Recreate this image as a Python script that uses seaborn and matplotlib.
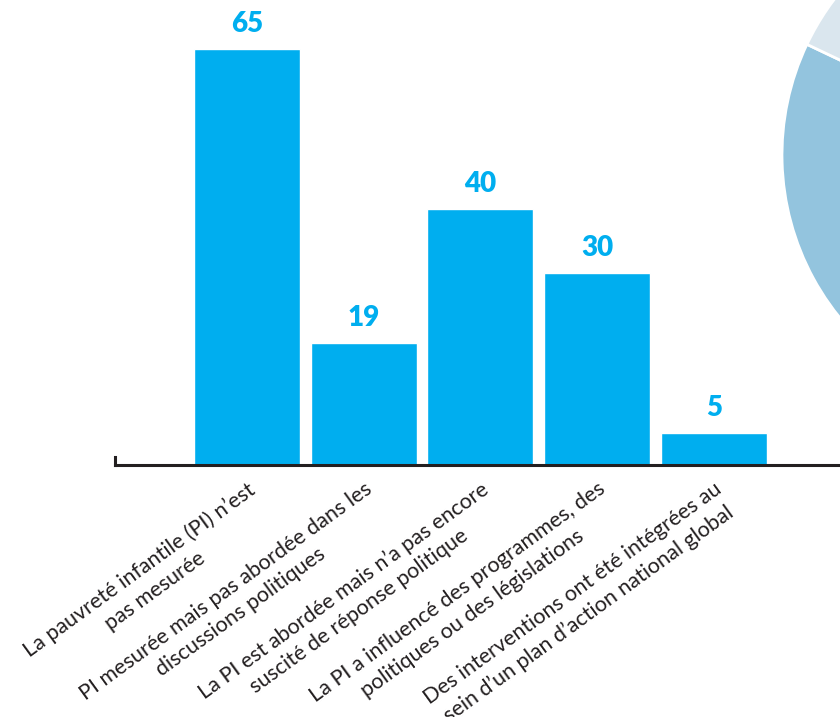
import matplotlib
matplotlib.use("Agg")
import matplotlib.pyplot as plt
import seaborn as sns
import pandas as pd

categories = [
    "La pauvreté infantile (PI) n’est\npas mesurée",
    "PI mesurée mais pas abordée dans les\ndiscussions politiques",
    "La PI est abordée mais n’a pas encore\nsuscité de réponse politique",
    "La PI a influencé des programmes, des\npolitiques ou des législations",
    "Des interventions ont été intégrées au\nsein d’un plan d’action national global",
]
values = [65, 19, 40, 30, 5]

pie_labels = ["principal", "secondaire"]
pie_values = [60, 40]

BAR = "#00AEEF"
DARK = "#231F20"

sns.set_style("white")
plt.rcParams["font.family"] = ["Lato", "DejaVu Sans"]

fig = plt.figure(figsize=(8.4, 7.17), dpi=100)
ax = fig.add_axes([115 / 840, (717 - 465) / 717, 1 - 115 / 840, 465 / 717])

df = pd.DataFrame({"cat": categories, "val": values})
sns.barplot(data=df, x="cat", y="val", color=BAR, saturation=1, width=0.91, ax=ax)

px_per_unit = 6.4
ax.set_ylim(0, 465 / px_per_unit)
spacing = 116.7
ax.set_xlim(-(247 - 115) / spacing, (840 - 247) / spacing)

ax.bar_label(ax.containers[0], labels=[str(v) for v in values], padding=9,
             fontsize=20, fontweight="heavy", color=BAR)

for s in ["top", "right"]:
    ax.spines[s].set_visible(False)
ax.spines["bottom"].set_color(DARK)
ax.spines["bottom"].set_linewidth(2.2)
ax.spines["left"].set_color(DARK)
ax.spines["left"].set_linewidth(2.2)
ax.spines["left"].set_bounds(0, 8 / px_per_unit)
ax.set_yticks([])
ax.set_xlabel("")
ax.set_ylabel("")
ax.set_xticks(range(len(categories)))
ax.set_xticklabels(categories, rotation=36, ha="right", va="top",
                   rotation_mode="anchor", multialignment="center",
                   fontsize=15.5, color=DARK, linespacing=1.35)
ax.tick_params(axis="x", length=0, pad=10)

# partial pie on the right edge
ax2 = fig.add_axes([782 / 840, (717 - 413) / 717, 516 / 840, 516 / 717])
ax2.pie(pie_values, startangle=154.6, colors=["#93C4DE", "#DAE6EE"],
        wedgeprops=dict(edgecolor="white", linewidth=2))
ax2.set_xlim(-1, 1)
ax2.set_ylim(-1, 1)
ax2.axis("off")

fig.savefig("out.png", dpi=100)
